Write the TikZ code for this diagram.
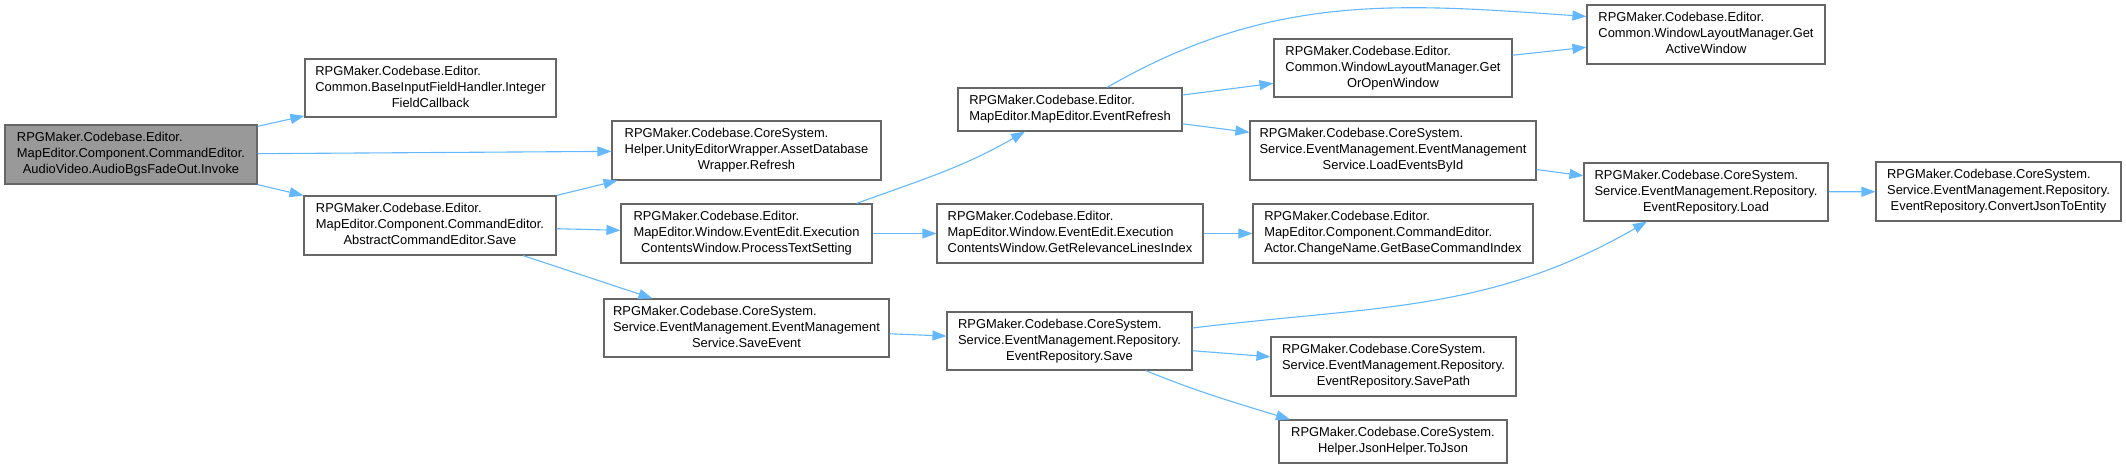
\documentclass[tikz,border=0pt]{standalone}
\usepackage{fontspec}
\setmainfont{Liberation Sans}
\usepackage{tikz}
\usetikzlibrary{arrows.meta}
\usepackage{xcolor}
\definecolor{edgeblue}{RGB}{99,184,255}
\definecolor{boxgray}{RGB}{102,102,102}
\definecolor{rootgray}{RGB}{153,153,153}
\newcommand{\fnlabel}[2]{\begin{tabular}{@{}l@{}}#1\\\multicolumn{1}{@{}c@{}}{#2}\end{tabular}}

\begin{document}
\begin{tikzpicture}[x=1pt,y=-1pt,
  fn/.style={draw=boxgray, line width=1.1pt, fill=white, inner sep=0pt,
    font=\fontsize{12.9}{16}\selectfont},
  call/.style={draw=edgeblue, line width=1.1pt, -{Triangle[length=14pt,width=10pt]}}]
  \useasboundingbox (0,0) rectangle (2126,468);

  % root
  \node[fn, fill=rootgray, minimum width=252pt, minimum height=59pt] (root) at (131,154.5)
    {\fnlabel{RPGMaker.Codebase.Editor.\\MapEditor.Component.CommandEditor.}{AudioVideo.AudioBgsFadeOut.Invoke}};

  % column 1
  \node[fn, minimum width=251pt, minimum height=58pt] (intcb) at (430.5,88)
    {\fnlabel{RPGMaker.Codebase.Editor.\\Common.BaseInputFieldHandler.Integer}{FieldCallback}};
  \node[fn, minimum width=252pt, minimum height=59pt] (acsave) at (430,225.5)
    {\fnlabel{RPGMaker.Codebase.Editor.\\MapEditor.Component.CommandEditor.}{AbstractCommandEditor.Save}};

  % column 2
  \node[fn, minimum width=269pt, minimum height=59pt] (refresh) at (746.5,150.5)
    {\fnlabel{RPGMaker.Codebase.CoreSystem.\\Helper.UnityEditorWrapper.AssetDatabase}{Wrapper.Refresh}};
  \node[fn, minimum width=251pt, minimum height=59pt] (proctext) at (746.5,233.5)
    {\fnlabel{RPGMaker.Codebase.Editor.\\MapEditor.Window.EventEdit.Execution}{ContentsWindow.ProcessTextSetting}};
  \node[fn, minimum width=285pt, minimum height=58pt] (saveevent) at (746.5,328)
    {\fnlabel{RPGMaker.Codebase.CoreSystem.\\Service.EventManagement.EventManagement}{Service.SaveEvent}};

  % column 3
  \node[fn, minimum width=224pt, minimum height=43pt] (evrefresh) at (1070,109.5)
    {\fnlabel{RPGMaker.Codebase.Editor.}{MapEditor.MapEditor.EventRefresh}};
  \node[fn, minimum width=266pt, minimum height=59pt] (relidx) at (1070,233.5)
    {\fnlabel{RPGMaker.Codebase.Editor.\\MapEditor.Window.EventEdit.Execution}{ContentsWindow.GetRelevanceLinesIndex}};
  \node[fn, minimum width=245pt, minimum height=58pt] (repsave) at (1069.5,341)
    {\fnlabel{RPGMaker.Codebase.CoreSystem.\\Service.EventManagement.Repository.}{EventRepository.Save}};

  % column 4
  \node[fn, minimum width=238pt, minimum height=58pt] (getorwin) at (1393,68)
    {\fnlabel{RPGMaker.Codebase.Editor.\\Common.WindowLayoutManager.Get}{OrOpenWindow}};
  \node[fn, minimum width=286pt, minimum height=59pt] (loadbyid) at (1393,150.5)
    {\fnlabel{RPGMaker.Codebase.CoreSystem.\\Service.EventManagement.EventManagement}{Service.LoadEventsById}};
  \node[fn, minimum width=280pt, minimum height=59pt] (basecmd) at (1393,233.5)
    {\fnlabel{RPGMaker.Codebase.Editor.\\MapEditor.Component.CommandEditor.}{Actor.ChangeName.GetBaseCommandIndex}};
  \node[fn, minimum width=245pt, minimum height=59pt] (savepath) at (1393.5,366.5)
    {\fnlabel{RPGMaker.Codebase.CoreSystem.\\Service.EventManagement.Repository.}{EventRepository.SavePath}};
  \node[fn, minimum width=228pt, minimum height=43pt] (tojson) at (1393,441.5)
    {\fnlabel{RPGMaker.Codebase.CoreSystem.}{Helper.JsonHelper.ToJson}};

  % column 5
  \node[fn, minimum width=238pt, minimum height=59pt] (activewin) at (1706,34.5)
    {\fnlabel{RPGMaker.Codebase.Editor.\\Common.WindowLayoutManager.Get}{ActiveWindow}};
  \node[fn, minimum width=244pt, minimum height=58pt] (repload) at (1706,192)
    {\fnlabel{RPGMaker.Codebase.CoreSystem.\\Service.EventManagement.Repository.}{EventRepository.Load}};

  % column 6
  \node[fn, minimum width=245pt, minimum height=59pt] (convjson) at (1998.5,191.5)
    {\fnlabel{RPGMaker.Codebase.CoreSystem.\\Service.EventManagement.Repository.}{EventRepository.ConvertJsonToEntity}};

  % calls
  \draw[call] (root) -- (intcb);
  \draw[call] (root) -- (refresh);
  \draw[call] (root) -- (acsave);
  \draw[call] (acsave.north east) -- ([xshift=6pt]refresh.south west);
  \draw[call] (acsave) -- (proctext);
  \draw[call] ([xshift=93pt]acsave.south) -- ([xshift=-94pt]saveevent.north);
  \draw[call] ([xshift=110pt]proctext.north) to[out=20,in=-150] ([xshift=-45pt]evrefresh.south);
  \draw[call] (proctext) -- (relidx);
  \draw[call] (saveevent) -- (repsave);
  \draw[call] ([xshift=37pt]evrefresh.north) to[out=30,in=176] ([yshift=18pt]activewin.west);
  \draw[call] (evrefresh) -- (getorwin);
  \draw[call] (evrefresh) -- (loadbyid);
  \draw[call] (getorwin) -- (activewin);
  \draw[call] (loadbyid) -- (repload);
  \draw[call] (relidx) -- (basecmd);
  \draw[call] ([yshift=13pt]repsave.east) to[out=7,in=-150] ([xshift=-59pt]repload.south);
  \draw[call] (repsave) -- (savepath);
  \draw[call] ([xshift=76pt]repsave.south) to[out=-22,in=163] ([xshift=-103pt]tojson.north);
  \draw[call] (repload) -- (convjson);
\end{tikzpicture}
\end{document}
